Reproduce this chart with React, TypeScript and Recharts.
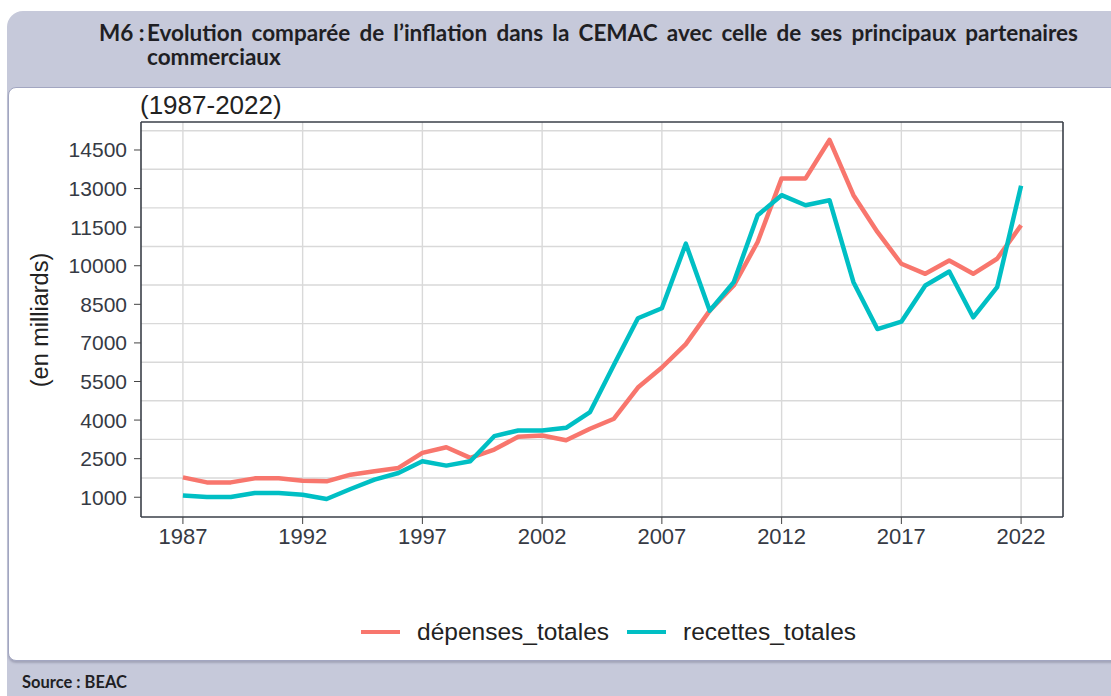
import React from 'react';
import { LineChart, Line, XAxis, YAxis, CartesianGrid, ReferenceLine } from 'recharts';

// années 1987-2022
const years = [
  1987, 1988, 1989, 1990, 1991, 1992, 1993, 1994, 1995, 1996, 1997, 1998,
  1999, 2000, 2001, 2002, 2003, 2004, 2005, 2006, 2007, 2008, 2009, 2010,
  2011, 2012, 2013, 2014, 2015, 2016, 2017, 2018, 2019, 2020, 2021, 2022,
];

// en milliards
const depensesTotales = [
  1773, 1578, 1578, 1734, 1734, 1644, 1617, 1878, 2007, 2140, 2725, 2945,
  2530, 2854, 3350, 3400, 3218, 3662, 4053, 5263, 6044, 6954, 8254, 9230,
  10924, 13395, 13395, 14890, 12743, 11314, 10077, 9686, 10206, 9686, 10272, 11572,
];
const recettesTotales = [
  1070, 1008, 1008, 1164, 1164, 1098, 930, 1320, 1683, 1944, 2398, 2230,
  2398, 3374, 3596, 3596, 3700, 4311, 6150, 7957, 8347, 10857, 8254, 9362,
  11962, 12743, 12353, 12548, 9362, 7539, 7824, 9230, 9776, 7996, 9167, 13110,
];

const seriesNames = ['dépenses_totales', 'recettes_totales'];
const seriesColors = ['#F8766D', '#00BFC4'];

const xTicks = [1987, 1992, 1997, 2002, 2007, 2012, 2017, 2022];
const yTicks = [1000, 2500, 4000, 5500, 7000, 8500, 10000, 11500, 13000, 14500];
const yGrid = [
  1000, 1750, 2500, 3250, 4000, 4750, 5500, 6250, 7000, 7750, 8500, 9250,
  10000, 10750, 11500, 12250, 13000, 13750, 14500, 15250,
];

const data = years.map((year, i) => ({
  year,
  [seriesNames[0]]: depensesTotales[i],
  [seriesNames[1]]: recettesTotales[i],
}));

// ggplot-like 5% expansion
const expand = (lo: number, hi: number): [number, number] => {
  const r = hi - lo;
  return [lo - r * 0.05, hi + r * 0.05];
};
const allValues = [...depensesTotales, ...recettesTotales];
const yDomain = expand(Math.min(...allValues), Math.max(...allValues));
const xDomain = expand(years[0], years[years.length - 1]);

const chartFont = '"Liberation Sans", Arial, sans-serif';
const textColor = '#363a44';

export default function App() {
  return (
    <div
      style={{
        position: 'absolute',
        left: 0,
        top: 0,
        width: 1111,
        height: 696,
        overflow: 'hidden',
        background: '#fff',
      }}
    >
      {/* cadre gris */}
      <div
        style={{
          position: 'absolute',
          left: 7,
          top: 11,
          width: 1130,
          height: 710,
          background: '#c6c9da',
          borderRadius: 16,
        }}
      />
      <div
        style={{
          position: 'absolute',
          left: 99,
          top: 21,
          display: 'flex',
          fontFamily: 'Lato, sans-serif',
          fontWeight: 700,
          fontSize: 22.5,
          lineHeight: '24px',
          color: '#1f1f24',
        }}
      >
        <div style={{ width: 48, whiteSpace: 'nowrap' }}>M6 :</div>
        <div style={{ width: 931, textAlign: 'justify' }}>
          Evolution comparée de l’inflation dans la CEMAC avec celle de ses principaux partenaires
          commerciaux
        </div>
      </div>

      {/* panneau blanc */}
      <div
        style={{
          position: 'absolute',
          left: 8,
          top: 87,
          width: 1130,
          height: 572,
          background: '#fff',
          border: '1px solid #a2a6c1',
          borderRadius: 8,
          boxShadow: '0 2px 2px rgba(60,60,90,0.25)',
        }}
      />

      <div
        style={{
          position: 'absolute',
          left: 22,
          top: 672,
          fontFamily: 'Lato, sans-serif',
          fontWeight: 700,
          fontSize: 16.5,
          color: '#1f1f24',
        }}
      >
        Source : BEAC
      </div>

      <div
        style={{
          position: 'absolute',
          left: 140,
          top: 90,
          fontFamily: chartFont,
          fontSize: 26,
          color: '#222',
        }}
      >
        (1987-2022)
      </div>

      <div
        style={{
          position: 'absolute',
          left: 40,
          top: 320,
          transform: 'translate(-50%, -50%) rotate(-90deg)',
          fontFamily: chartFont,
          fontSize: 23.5,
          color: '#222',
          whiteSpace: 'nowrap',
        }}
      >
        (en milliards)
      </div>

      <div style={{ position: 'absolute', left: 0, top: 0 }}>
        <LineChart
          width={1111}
          height={696}
          data={data}
          margin={{ top: 122, right: 48, left: 71, bottom: 139 }}
        >
          <CartesianGrid
            stroke="#d9d9d9"
            strokeWidth={1.4}
            horizontalValues={yGrid}
            verticalValues={xTicks}
          />
          <XAxis
            dataKey="year"
            type="number"
            domain={xDomain}
            ticks={xTicks}
            allowDataOverflow
            height={40}
            tickSize={7}
            tickMargin={4}
            stroke="#444"
            axisLine={{ stroke: '#3a3f48', strokeWidth: 1.6 }}
            tick={{ fill: textColor, fontSize: 22, fontFamily: chartFont }}
          />
          <YAxis
            type="number"
            domain={yDomain}
            ticks={yTicks}
            allowDataOverflow
            width={70}
            tickSize={7}
            tickMargin={7}
            stroke="#444"
            axisLine={{ stroke: '#3a3f48', strokeWidth: 1.6 }}
            tick={{ fill: textColor, fontSize: 21, fontFamily: chartFont }}
          />
          <ReferenceLine y={yDomain[1]} stroke="#3a3f48" strokeWidth={1.6} />
          <ReferenceLine x={xDomain[1]} stroke="#3a3f48" strokeWidth={1.6} />
          {seriesNames.map((name, i) => (
            <Line
              key={name}
              type="linear"
              dataKey={name}
              stroke={seriesColors[i]}
              strokeWidth={4.5}
              strokeLinejoin="round"
              dot={false}
              activeDot={false}
              isAnimationActive={false}
            />
          ))}
        </LineChart>
      </div>

      {/* légende */}
      <div
        style={{
          position: 'absolute',
          left: 361,
          top: 618,
          display: 'flex',
          alignItems: 'center',
          fontFamily: chartFont,
          fontSize: 24.5,
          color: '#222',
        }}
      >
        {seriesNames.map((name, i) => (
          <div key={name} style={{ display: 'flex', alignItems: 'center', marginRight: 18 }}>
            <div style={{ width: 39, height: 4, background: seriesColors[i], marginRight: 17 }} />
            <span>{name}</span>
          </div>
        ))}
      </div>
    </div>
  );
}
